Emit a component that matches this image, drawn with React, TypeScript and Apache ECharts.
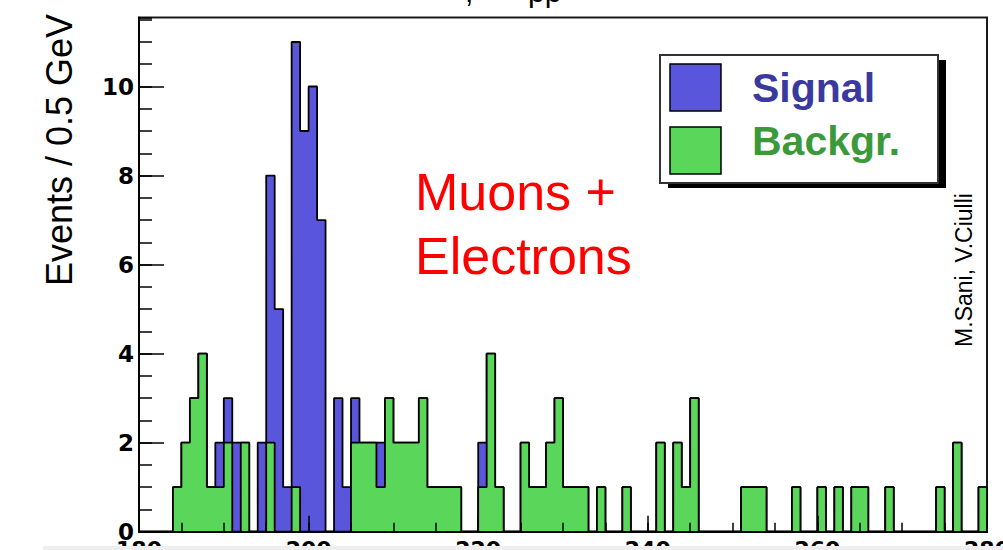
import React, { useEffect, useRef } from "react";
import * as echarts from "echarts";

// Histogram binning (GeV)
const BIN_START = 180;
const BIN_WIDTH = 1;

// Background events per bin, bins 180..279
const background: number[] = [
  0, 0, 0, 0, 1, 2, 3, 4, 1, 1,
  2, 0, 2, 0, 0, 2, 0, 0, 1, 0,
  0, 0, 0, 0, 0, 2, 2, 2, 1, 3,
  2, 2, 2, 3, 1, 1, 1, 1, 0, 0,
  1, 4, 1, 0, 0, 2, 1, 1, 2, 3,
  1, 1, 1, 0, 1, 0, 0, 1, 0, 0,
  0, 2, 0, 2, 1, 3, 0, 0, 0, 0,
  0, 1, 1, 1, 0, 0, 0, 1, 0, 0,
  1, 0, 1, 0, 1, 1, 0, 0, 1, 0,
  0, 0, 0, 0, 1, 0, 2, 0, 0, 1,
];

// Signal events per bin, bins 180..279 (stacked on background)
const signal: number[] = [
  0, 0, 0, 0, 0, 0, 0, 0, 0, 1,
  1, 2, 0, 0, 2, 6, 5, 1, 10, 9,
  10, 7, 0, 3, 1, 1, 0, 0, 1, 0,
  0, 0, 0, 0, 0, 0, 0, 0, 0, 0,
  1, 0, 0, 0, 0, 0, 0, 0, 0, 0,
  0, 0, 0, 0, 0, 0, 0, 0, 0, 0,
  0, 0, 0, 0, 0, 0, 0, 0, 0, 0,
  0, 0, 0, 0, 0, 0, 0, 0, 0, 0,
  0, 0, 0, 0, 0, 0, 0, 0, 0, 0,
  0, 0, 0, 0, 0, 0, 0, 0, 0, 0,
];

const X_MIN = 180;
const X_MAX = 280;
const X_MAJOR = 20;
const X_MINOR = 5;
const Y_MIN = 0;
const Y_MAX = 11.55;
const Y_MAJOR = 2;
const Y_MINOR = 0.5;

const legendLabels = ["Signal", "Backgr."];
const annotationLines = ["Muons +", "Electrons"];
const yTitle = "Events / 0.5 GeV";
const credit = "M.Sani, V.Ciulli";

const BLUE = "#5a56dc";
const GREEN = "#5ad65a";

function stepPoints(values: number[]): number[][] {
  const pts = values.map((v, i) => [BIN_START + i * BIN_WIDTH, v]);
  const end = BIN_START + values.length * BIN_WIDTH;
  pts.push([end, values[values.length - 1]]);
  pts.push([end, 0]);
  return pts;
}

export default function App() {
  const ref = useRef<HTMLDivElement>(null);

  useEffect(() => {
    document.body.style.margin = "0";
    const chart = echarts.init(ref.current!, null, { renderer: "svg" });
    const total = background.map((b, i) => b + signal[i]);
    const tickFont = "DejaVu Sans";
    const sans = "Liberation Sans, Arial, Helvetica, sans-serif";

    const option: any = {
      animation: false,
      backgroundColor: "#ffffff",
      grid: {
        left: 139,
        right: 16,
        top: 17.5,
        bottom: 18.3,
        containLabel: false,
        outerBoundsMode: "none",
        show: true,
        borderColor: "#1a1a1a",
        borderWidth: 2,
        backgroundColor: "transparent",
      },
      xAxis: [
        {
          type: "value",
          min: X_MIN,
          max: X_MAX,
          interval: X_MAJOR,
          position: "bottom",
          axisLine: { show: true, lineStyle: { color: "#000", width: 2 } },
          axisTick: { show: true, inside: true, length: 16, lineStyle: { color: "#000", width: 1.5 } },
          axisLabel: {
            show: true,
            margin: 7,
            color: "#000",
            fontFamily: tickFont,
            fontWeight: "bold",
            fontSize: 22,
          },
          splitLine: { show: false },
          z: 10,
        },
        {
          type: "value",
          min: X_MIN,
          max: X_MAX,
          interval: X_MINOR,
          position: "bottom",
          offset: 0,
          axisLine: { show: false },
          axisTick: { show: true, inside: true, length: 9, lineStyle: { color: "#000", width: 1.5 } },
          axisLabel: { show: false },
          splitLine: { show: false },
          z: 10,
        },
      ],
      yAxis: [
        {
          type: "value",
          min: Y_MIN,
          max: Y_MAX,
          interval: Y_MAJOR,
          position: "left",
          axisLine: { show: true, lineStyle: { color: "#000", width: 2 } },
          axisTick: { show: true, inside: true, length: 25, lineStyle: { color: "#000", width: 1.5 } },
          axisLabel: {
            show: true,
            margin: 5,
            color: "#000",
            fontFamily: tickFont,
            fontWeight: "bold",
            fontSize: 23,
            showMaxLabel: false,
            formatter: (v: number) => (Math.abs(v % Y_MAJOR) < 1e-9 ? String(v) : ""),
          },
          splitLine: { show: false },
          z: 10,
        },
        {
          type: "value",
          min: Y_MIN,
          max: Y_MAX,
          interval: Y_MINOR,
          position: "left",
          offset: 0,
          axisLine: { show: false },
          axisTick: { show: true, inside: true, length: 13, lineStyle: { color: "#000", width: 1.5 } },
          axisLabel: { show: false },
          splitLine: { show: false },
          z: 10,
        },
      ],
      series: [
        {
          name: "Signal",
          type: "line",
          step: "end",
          xAxisIndex: 0,
          yAxisIndex: 0,
          data: stepPoints(total),
          symbol: "none",
          lineStyle: { color: "#000", width: 1.8 },
          areaStyle: { color: BLUE, opacity: 1 },
          z: 2,
        },
        {
          name: "Backgr.",
          type: "line",
          step: "end",
          xAxisIndex: 0,
          yAxisIndex: 0,
          data: stepPoints(background),
          symbol: "none",
          lineStyle: { color: "#000", width: 1.8 },
          areaStyle: { color: GREEN, opacity: 1 },
          z: 3,
        },
      ],
      graphic: [
        // partial title cut at the top of the picture
        {
          type: "text",
          x: 465,
          y: 6,
          style: { text: ",", fontFamily: sans, fontSize: 30, fill: "#000", align: "left", verticalAlign: "bottom" },
          z: 20,
        },
        {
          type: "text",
          x: 528,
          y: 6.4,
          style: { text: "pp", fontFamily: sans, fontSize: 30, fill: "#000", align: "left", verticalAlign: "bottom" },
          z: 20,
        },
        // y-axis title
        {
          type: "text",
          x: 59,
          y: 150,
          rotation: Math.PI / 2,
          style: {
            text: yTitle,
            fontFamily: sans,
            fontSize: 36,
            fill: "#000",
            align: "center",
            verticalAlign: "middle",
          },
          z: 20,
        },
        // credit
        {
          type: "text",
          x: 964,
          y: 270,
          rotation: Math.PI / 2,
          style: {
            text: credit,
            fontFamily: sans,
            fontSize: 23,
            fill: "#000",
            align: "center",
            verticalAlign: "middle",
          },
          z: 20,
        },
        // annotation
        {
          type: "text",
          x: 415,
          y: 192,
          style: {
            text: annotationLines[0],
            fontFamily: sans,
            fontSize: 52,
            fill: "#ff0000",
            align: "left",
            verticalAlign: "middle",
          },
          z: 20,
        },
        {
          type: "text",
          x: 415,
          y: 256,
          style: {
            text: annotationLines[1],
            fontFamily: sans,
            fontSize: 52,
            fill: "#ff0000",
            align: "left",
            verticalAlign: "middle",
          },
          z: 20,
        },
        // legend shadow + box
        {
          type: "rect",
          shape: { x: 668, y: 60, width: 278, height: 128 },
          style: { fill: "#000" },
          z: 20,
        },
        {
          type: "rect",
          shape: { x: 660, y: 55, width: 278, height: 128 },
          style: { fill: "#fff", stroke: "#333", lineWidth: 2 },
          z: 21,
        },
        {
          type: "rect",
          shape: { x: 670, y: 64, width: 51, height: 47 },
          style: { fill: BLUE, stroke: "#000", lineWidth: 1.5 },
          z: 22,
        },
        {
          type: "rect",
          shape: { x: 670, y: 127, width: 51, height: 47 },
          style: { fill: GREEN, stroke: "#000", lineWidth: 1.5 },
          z: 22,
        },
        {
          type: "text",
          x: 752,
          y: 88,
          style: {
            text: legendLabels[0],
            fontFamily: sans,
            fontWeight: "bold",
            fontSize: 41,
            fill: "#3a3a9e",
            align: "left",
            verticalAlign: "middle",
          },
          z: 22,
        },
        {
          type: "text",
          x: 752,
          y: 141,
          style: {
            text: legendLabels[1],
            fontFamily: sans,
            fontWeight: "bold",
            fontSize: 41,
            fill: "#3a9a3a",
            align: "left",
            verticalAlign: "middle",
          },
          z: 22,
        },
        // light strip at the bottom edge
        {
          type: "rect",
          shape: { x: 43, y: 546, width: 960, height: 4 },
          style: { fill: "#eeeeee" },
          z: 30,
        },
      ],
    };

    chart.setOption(option);
    return () => chart.dispose();
  }, []);

  return (
    <div
      ref={ref}
      style={{ position: "absolute", left: 0, top: 0, width: 1003, height: 550, background: "#fff" }}
    />
  );
}
